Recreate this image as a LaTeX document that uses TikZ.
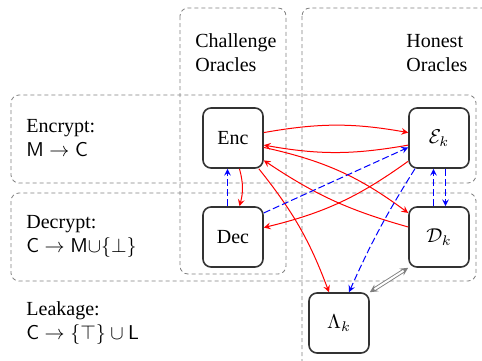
\documentclass[tikz,border=0pt]{standalone}
\usepackage{fontspec}
\setmainfont{Liberation Serif}

\tikzset{
  >=stealth,
  oracle/.style={draw=black!80, line width=0.8pt, rounded corners=4pt, minimum size=30pt, inner sep=0pt},
  group box/.style={draw=gray, dash pattern=on 2pt off 1.5pt, rounded corners=4pt},
  group label/.style={anchor=west, align=left, inner sep=0pt},
  real call/.style={->, red, line width=0.5pt},
  sim call/.style={->, blue, line width=0.5pt, dash pattern=on 3.5pt off 1.5pt},
  leak link/.style={<->, gray, line width=0.45pt, double, double distance=1pt}
}

\begin{document}
\begin{tikzpicture}[x=0.5pt,y=0.5pt]
	%% page frame
	\clip (0,0) rectangle (482,360);

	%% dashed groups
	\draw[group box] (180,352) rectangle (286,86); % challenge column
	\draw[group box] (302,352) rectangle (492,-10); % honest column
	\draw[group box] (11,265) rectangle (476,177); % encrypt row
	\draw[group box] (11,167) rectangle (476,79); % decrypt row

	%% labels of the groups
	\node[group label] (chal) at (195,307) {Challenge\\Oracles};
	\node[group label] (hon) at (406,307) {Honest\\Oracles};
	\node[group label] (enclbl) at (26,222) {Encrypt:\\$\mathsf{M} \rightarrow \mathsf{C}$};
	\node[group label] (declbl) at (26,124) {Decrypt:\\$\mathsf{C} \rightarrow \mathsf{M}{\cup}\{\bot\}$};
	\node[group label] (leaklbl) at (26,37) {Leakage:\\$\mathsf{C} \rightarrow \{\top\} \cup \mathsf{L}$};

	%% oracles
	\node[oracle] (Enc) at (233,222) {Enc};
	\node[oracle] (Ek) at (439,222) {$\mathcal{E}_k$};
	\node[oracle] (Dec) at (233,123) {Dec};
	\node[oracle] (Dk) at (439,123) {$\mathcal{D}_k$};
	\node[oracle] (Lk) at (339,37) {$\Lambda_k$};

	% real calls
	\draw[real call] (Enc.10) to[bend left=10] (Ek.170);
	\draw[real call] (Ek.193) to[bend left=10] (Enc.347);
	\draw[real call] ([xshift=3.25pt]Enc.south) to[bend left=15] ([xshift=3.25pt]Dec.north);
	\draw[real call] (Enc.-17) to[bend left=12] (Dk.142);
	\draw[real call] (Dk.162) to[bend left=9] (Enc.-36);
	\draw[real call] (Ek.-143) to[bend left=11] (Dec.17);
	\draw[real call] (Enc.-50) to[bend left=9] ([xshift=-5pt]Lk.north);

	% simulated calls
	\draw[sim call] ([xshift=-2.75pt]Dec.north) -- ([xshift=-2.75pt]Enc.south);
	\draw[sim call] (Dec.38) -- (Ek.197);
	\draw[sim call] (Ek.-128) to[bend right=4] ([xshift=5pt]Lk.north);
	\draw[sim call] ([xshift=-2.75pt]Dk.north) -- ([xshift=-2.75pt]Ek.south);
	\draw[sim call] ([xshift=3.25pt]Ek.south) -- ([xshift=3.25pt]Dk.north);

	% leakage link
	\draw[leak link] (Lk.north east) -- (Dk.south west);
\end{tikzpicture}
\end{document}
